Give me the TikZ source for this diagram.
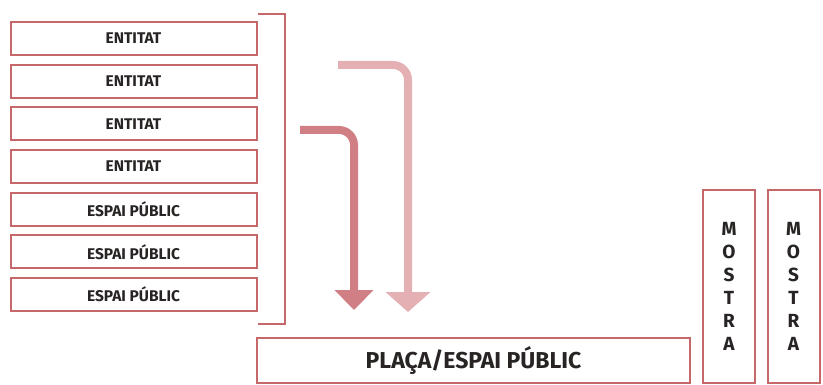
\documentclass[tikz,border=0pt]{standalone}
\usepackage{fontspec}
\setmainfont{Fira Sans}
\usetikzlibrary{arrows.meta,positioning}

\definecolor{frame}{RGB}{198,104,106}
\definecolor{arrowdark}{RGB}{208,128,133}
\definecolor{arrowlight}{RGB}{228,176,180}
\definecolor{ink}{RGB}{40,36,36}

\begin{document}
\begin{tikzpicture}[
		x=1pt,y=-1pt,
		box/.style={draw=frame,line width=2pt,fill=white,text=ink,font=\bfseries\fontsize{15.5}{17}\selectfont,minimum width=246pt,minimum height=33pt,inner sep=0pt},
		bigbox/.style={box,font=\bfseries\fontsize{23}{25}\selectfont,minimum width=433pt,minimum height=45pt},
		tallbox/.style={box,font=\bfseries\fontsize{19}{23}\selectfont,align=center,minimum width=52pt,minimum height=193pt},
		flow/.style={line width=8pt,rounded corners=15pt}
	]
	\useasboundingbox (0,0) rectangle (823,385);

	% entitats i espais publics
	\foreach \lbl [count=\i] in {ENTITAT,ENTITAT,ENTITAT,ENTITAT,ESPAI PÚBLIC,ESPAI PÚBLIC,ESPAI PÚBLIC}
		\node[box] (e\i) at (133.5,{38.5+42.7*(\i-1)}) {\lbl};

	% clau
	\coordinate (bt) at (258,14);
	\coordinate (bb) at (258,324);
	\draw[frame,line width=2pt] (bt) -- (285,14) -- (285,324) -- (bb);

	% plaça i mostres
	\node[bigbox] (placa) at (473.5,360.5) {PLAÇA/ESPAI PÚBLIC};
	\node[tallbox] (m1) at (729,286.5) {M\\O\\S\\T\\R\\A};
	\node[tallbox] (m2) at (793.5,286.5) {M\\O\\S\\T\\R\\A};

	% fletxes
	\coordinate (a1) at (300,130);
	\coordinate (a2) at (338,65);
	\draw[flow,arrowdark,-{Triangle[width=38pt,length=20pt]}] (a1) -- (354,130) -- (354,310);
	\draw[flow,arrowlight,-{Triangle[width=44pt,length=20pt]}] (a2) -- (408,65) -- (408,312);
\end{tikzpicture}
\end{document}
